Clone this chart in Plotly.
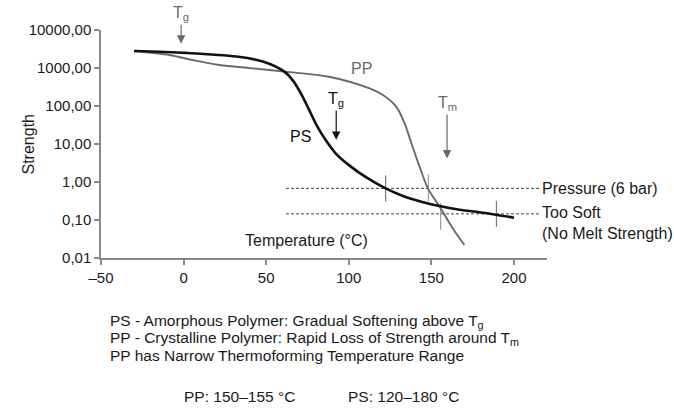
"""Strength vs temperature for PS and PP (thermoforming window)."""

import plotly.graph_objects as go

# PS - amorphous polymer (black curve)
ps_temp = [-30, 1.5, 32, 48, 61, 66, 71, 76, 81, 86, 92, 100.5, 110.6, 122.3, 132.8, 145, 155, 167, 179, 189, 200]
ps_strength = [2800, 2500, 2000, 1480, 800, 480, 216, 79, 28.5, 12.7, 5.7, 2.7, 1.32, 0.68, 0.43, 0.295,
               0.234, 0.186, 0.16, 0.138, 0.115]

# PP - crystalline polymer (grey curve)
pp_temp = [-30, -8.6, 5.5, 21.7, 42, 61, 88, 112.6, 120.7, 128.8, 133.8, 137.9, 142.9, 147.9, 155, 163, 170]
pp_strength = [2800, 2200, 1620, 1200, 980, 800, 590, 290, 195, 95, 35, 10.5, 2.5, 0.68, 0.224, 0.06, 0.022]

# reference levels (dashed) and their temperature span
level_temp = [62, 216]
pressure_level = 0.68
too_soft_level = 0.145

# forming-window marks: (temperature, level)
ps_marks = [(122.3, pressure_level), (189.4, too_soft_level)]
pp_marks = [(148.2, pressure_level), (155.6, too_soft_level)]

x_ticks = [-50, 0, 50, 100, 150, 200]
x_tick_text = ["\u201350", "0", "50", "100", "150", "200"]
y_ticks = [0.01, 0.1, 1, 10, 100, 1000, 10000]
y_tick_text = ["0,01", "0,10", "1,00", "10,00", "100,00", "1000,00", "10000,00"]

FONT = "Liberation Sans, Arial, Helvetica, sans-serif"
GREY = "#6a6a6a"
AXIS = "#8a8a8a"
INK = "#1a1a1a"

# plot area in pixels
L, R, T, B = 101, 127, 30, 152
W, H = 674, 410


def paper_x(px):
    return (px - L) / (W - L - R)


def paper_y(py):
    return (H - B - py) / (H - T - B)


fig = go.Figure()

for level in (pressure_level, too_soft_level):
    fig.add_trace(go.Scatter(
        x=level_temp, y=[level, level], mode="lines",
        line=dict(color="#444444", width=1, dash="3px,2px"), hoverinfo="skip",
    ))

for temp, level in ps_marks:
    fig.add_trace(go.Scatter(
        x=[temp, temp], y=[level / 2.2, level * 2.2], mode="lines",
        line=dict(color="#7a7a7a", width=1.2), hoverinfo="skip",
    ))
for temp, level in pp_marks:
    low, high = (2.6, 1.9) if level < 0.5 else (2.2, 2.3)
    fig.add_trace(go.Scatter(
        x=[temp, temp], y=[level / low, level * high],
        mode="lines", line=dict(color="#a0a0a0", width=1.2), hoverinfo="skip",
    ))

fig.add_trace(go.Scatter(
    x=pp_temp, y=pp_strength, mode="lines",
    line=dict(color=GREY, width=1.9, shape="spline", smoothing=0.9), name="PP",
))
fig.add_trace(go.Scatter(
    x=ps_temp, y=ps_strength, mode="lines",
    line=dict(color="#111111", width=2.6, shape="spline", smoothing=0.9), name="PS",
))

axis_style = dict(
    showgrid=False, zeroline=False, showline=True, linecolor=AXIS, linewidth=1.5,
    ticks="outside", ticklen=5, tickcolor=AXIS, tickwidth=1.5,
    tickfont=dict(size=15, color=INK),
)
fig.update_layout(
    width=W, height=H,
    margin=dict(l=L, r=R, t=T, b=B),
    plot_bgcolor="white", paper_bgcolor="white",
    showlegend=False,
    font=dict(family=FONT, size=16, color=INK),
    xaxis=dict(range=[-50, 220], tickvals=x_ticks, ticktext=x_tick_text, **axis_style),
    yaxis=dict(type="log", range=[-2, 4], tickvals=y_ticks, ticktext=y_tick_text, **axis_style),
)

arrow = dict(showarrow=True, arrowhead=2, arrowsize=1.4, arrowwidth=1.2, ax=0, xref="x", yref="y")

fig.add_annotation(x=-1.5, y=3.64, text="T<sub>g</sub>", ay=-30,
                   arrowcolor=GREY, font=dict(color=GREY, size=16), **arrow)
fig.add_annotation(x=92.4, y=1.11, text="T<sub>g</sub>", ay=-40,
                   arrowcolor="#111111", font=dict(color="#111111", size=16), **arrow)
fig.add_annotation(x=159.5, y=0.62, text="T<sub>m</sub>", ay=-55,
                   arrowcolor=GREY, font=dict(color=GREY, size=16), **arrow)

labels = [
    (107.5, 3.0, "PP", GREY, "center"),
    (70.7, 1.19, "PS", "#111111", "center"),
    (74.6, -1.53, "Temperature (\u00b0C)", INK, "center"),
    (216.0, -0.16, "Pressure (6 bar)", INK, "left"),
    (216.0, -1.07, "Too Soft<br>(No Melt Strength)", INK, "left"),
]
for x, y, text, color, anchor in labels:
    fig.add_annotation(x=x, y=y, text=text, showarrow=False, xanchor=anchor, align="left",
                       font=dict(color=color, size=16))

fig.add_annotation(x=paper_x(17), y=paper_y(145), xref="paper", yref="paper", text="Strength",
                   textangle=-90, showarrow=False, font=dict(size=16))

notes = [
    (108, 321.5, "PS - Amorphous Polymer: Gradual Softening above T<sub>g</sub>"),
    (108, 338.5, "PP - Crystalline Polymer: Rapid Loss of Strength around T<sub>m</sub>"),
    (108, 355.5, "PP has Narrow Thermoforming Temperature Range"),
    (182, 396, "PP: 150\u2013155 \u00b0C"),
    (346, 396, "PS: 120\u2013180 \u00b0C"),
]
for px, py, text in notes:
    fig.add_annotation(x=paper_x(px), y=paper_y(py), xref="paper", yref="paper", text=text,
                       showarrow=False, xanchor="left", yanchor="middle", font=dict(size=15.5))

fig.write_html("out.html", config={"displayModeBar": False},
               post_script="document.body.style.margin = '0';")
